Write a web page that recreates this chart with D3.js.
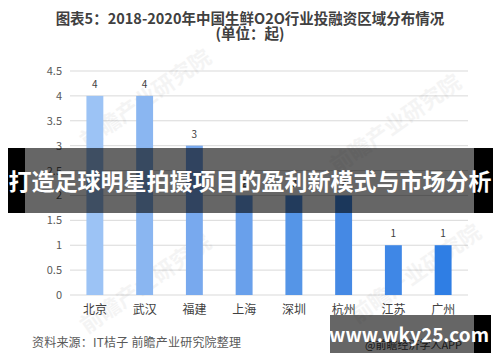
<!DOCTYPE html>
<html><head><meta charset="utf-8">
<script src="https://cdn.jsdelivr.net/npm/d3@7/dist/d3.min.js"></script>
<style>body{margin:0;background:#fff}svg{display:block}</style>
</head><body>
<svg id="c" width="500" height="362"></svg>
<script>
const categories = ["北京","武汉","福建","上海","深圳","杭州","江苏","广州"];
const values = [4,4,3,2,2,2,1,1];
const barColors = ["#9cc3f5","#8ab6f1","#78a9ee","#69a0eb","#5595e7","#4589e4","#3f87e6","#2f7ee4"];
const yTicks = [0,0.5,1,1.5,2,2.5,3,3.5,4,4.5];
const title1 = "图表5：2018-2020年中国生鲜O2O行业投融资区域分布情况";
const title2 = "(单位：起)";
const source = "资料来源：IT桔子 前瞻产业研究院整理";
const banner = "打造足球明星拍摄项目的盈利新模式与市场分析";
const stamp = "www.wky25.com";
const font = "'Microsoft YaHei','Noto Sans CJK SC',sans-serif";

const svg = d3.select("#c");
const x = d3.scaleBand().domain(categories).range([70,468]).paddingInner(0.66).paddingOuter(0.33);
const y = d3.scaleLinear().domain([0,4.5]).range([295,71]);

// gridlines
svg.append("g").selectAll("line").data(yTicks).join("line")
  .attr("x1",70).attr("x2",468).attr("y1",d=>y(d)).attr("y2",d=>y(d))
  .attr("stroke","#d9d9d9").attr("stroke-width",1);

// y axis labels
const yAxis = svg.append("g").attr("transform","translate(62,0)")
  .call(d3.axisLeft(y).tickValues(yTicks).tickSize(0).tickPadding(0).tickFormat(d=>String(d)));
yAxis.select(".domain").remove();
yAxis.selectAll("text").attr("fill","#595959").attr("font-size",11).attr("font-family",font);

// watermarks
const wm = [[150,105],[400,130],[150,290],[420,280]];
svg.append("g").selectAll("text").data(wm).join("text")
  .attr("transform",d=>`translate(${d[0]},${d[1]}) rotate(-35)`)
  .attr("text-anchor","middle").attr("font-size",22).attr("font-weight","bold")
  .attr("font-family",font).attr("fill","#000").attr("opacity",0.04).text("前瞻产业研究院");

// bars
svg.append("g").selectAll("rect").data(values).join("rect")
  .attr("x",(d,i)=>x(categories[i])).attr("width",x.bandwidth())
  .attr("y",d=>y(d)).attr("height",d=>y(0)-y(d))
  .attr("fill",(d,i)=>barColors[i]);

// value labels
svg.append("g").selectAll("text").data(values).join("text")
  .attr("x",(d,i)=>x(categories[i])+x.bandwidth()/2).attr("y",d=>y(d)-8)
  .attr("text-anchor","middle").attr("font-size",10).attr("fill","#404040")
  .attr("font-family",font).text(d=>d);

// x axis labels
const xAxis = svg.append("g").attr("transform","translate(0,295)")
  .call(d3.axisBottom(x).tickSize(0).tickPadding(10));
xAxis.select(".domain").remove();
xAxis.selectAll("text").attr("fill","#404040").attr("font-size",12).attr("font-family",font);

// title
svg.append("text").attr("x",250).attr("y",24).attr("text-anchor","middle")
  .attr("font-size",14.5).attr("font-weight","bold").attr("fill","#404040")
  .attr("font-family",font).text(title1);
svg.append("text").attr("x",250).attr("y",39).attr("text-anchor","middle")
  .attr("font-size",14.5).attr("font-weight","bold").attr("fill","#404040")
  .attr("font-family",font).text(title2);

// source
svg.append("text").attr("x",32).attr("y",347).attr("font-size",12)
  .attr("fill","#595959").attr("font-family",font).attr("letter-spacing",0.2).text(source);

// underlying app text
svg.append("text").attr("x",365).attr("y",349).attr("font-size",11)
  .attr("fill","#404040").attr("font-family",font).text("@前瞻经济学人APP");

// banner overlay
svg.append("rect").attr("x",8).attr("y",148).attr("width",17).attr("height",65).attr("fill","#000");
svg.append("rect").attr("x",474).attr("y",148).attr("width",19).attr("height",65).attr("fill","#000");
svg.append("rect").attr("x",25).attr("y",148).attr("width",449).attr("height",65).attr("fill","rgba(0,0,0,0.6)");
svg.append("text").attr("x",250).attr("y",190).attr("text-anchor","middle")
  .attr("font-size",23).attr("font-weight","bold").attr("fill","#fff")
  .attr("font-family",font).text(banner);

// stamp overlay
svg.append("rect").attr("x",474).attr("y",315).attr("width",17).attr("height",38).attr("fill","#000");
svg.append("rect").attr("x",330).attr("y",315).attr("width",144).attr("height",38).attr("fill","rgba(0,0,0,0.6)");
svg.append("text").attr("x",409).attr("y",342).attr("text-anchor","middle")
  .attr("font-size",19).attr("font-weight","bold").attr("fill","#fff")
  .attr("font-family",font).text(stamp);
</script>
</body></html>
